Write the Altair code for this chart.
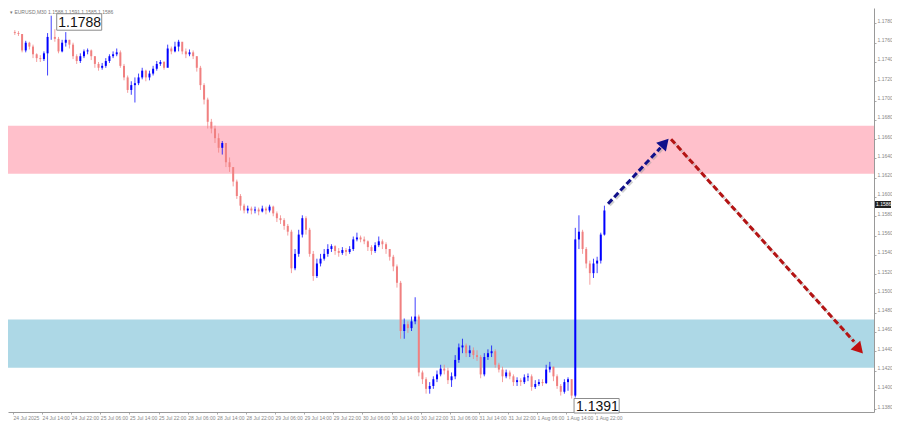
import altair as alt
import pandas as pd

# ---------------- data (EURUSD, hourly candles) ----------------
first_open = 1.1771
close = [1.1770, 1.1769, 1.1752, 1.1760, 1.1756, 1.1748, 1.1744, 1.1743, 1.1749, 1.1766,
         1.1766, 1.1764, 1.1751, 1.1760, 1.1763, 1.1758, 1.1746, 1.1741, 1.1746, 1.1751,
         1.1752, 1.1746, 1.1738, 1.1734, 1.1736, 1.1741, 1.1746, 1.1748, 1.1750, 1.1736,
         1.1724, 1.1711, 1.1716, 1.1718, 1.1724, 1.1731, 1.1724, 1.1728, 1.1733, 1.1738,
         1.1740, 1.1734, 1.1754, 1.1751, 1.1756, 1.1761, 1.1751, 1.1748, 1.1750, 1.1746,
         1.1734, 1.1716, 1.1701, 1.1678, 1.1671, 1.1661, 1.1651, 1.1656, 1.1636, 1.1631,
         1.1616, 1.1601, 1.1591, 1.1586, 1.1588, 1.1586, 1.1587, 1.1585, 1.1588, 1.1586,
         1.1590, 1.1583, 1.1578, 1.1576, 1.1570, 1.1564, 1.1526, 1.1541, 1.1561, 1.1578,
         1.1566, 1.1541, 1.1518, 1.1531, 1.1536, 1.1541, 1.1546, 1.1549, 1.1544, 1.1542,
         1.1545, 1.1543, 1.1546, 1.1556, 1.1558, 1.1556, 1.1554, 1.1548, 1.1544, 1.1550,
         1.1554, 1.1551, 1.1546, 1.1538, 1.1528, 1.1511, 1.1461, 1.1468, 1.1464, 1.1471,
         1.1476, 1.1418, 1.1411, 1.1401, 1.1404, 1.1411, 1.1416, 1.1422, 1.1420, 1.1410,
         1.1414, 1.1431, 1.1444, 1.1446, 1.1438, 1.1441, 1.1436, 1.1434, 1.1416, 1.1434,
         1.1438, 1.1440, 1.1426, 1.1421, 1.1414, 1.1418, 1.1414, 1.1408, 1.1410, 1.1408,
         1.1413, 1.1414, 1.1403, 1.1406, 1.1408, 1.1407, 1.1421, 1.1424, 1.1414, 1.1404,
         1.1398, 1.1408, 1.1411, 1.1394, 1.1556, 1.1564, 1.1546, 1.1531, 1.1521, 1.1531,
         1.1534, 1.1561, 1.1586]
high = [1.1773, 1.1772, 1.1769, 1.1762, 1.1761, 1.1758, 1.1749, 1.1747, 1.1751, 1.1770,
        1.1788, 1.1774, 1.1766, 1.1763, 1.1771, 1.1763, 1.1760, 1.1748, 1.1749, 1.1753,
        1.1754, 1.1753, 1.1746, 1.1740, 1.1739, 1.1744, 1.1748, 1.1751, 1.1754, 1.1752,
        1.1738, 1.1726, 1.1720, 1.1724, 1.1728, 1.1734, 1.1732, 1.1731, 1.1736, 1.1741,
        1.1742, 1.1741, 1.1758, 1.1756, 1.1761, 1.1763, 1.1758, 1.1754, 1.1753, 1.1752,
        1.1746, 1.1736, 1.1718, 1.1703, 1.1681, 1.1674, 1.1666, 1.1658, 1.1656, 1.1641,
        1.1631, 1.1618, 1.1603, 1.1593, 1.1591, 1.1590, 1.1590, 1.1589, 1.1591, 1.1590,
        1.1592, 1.1591, 1.1585, 1.1581, 1.1578, 1.1572, 1.1566, 1.1546, 1.1566, 1.1581,
        1.1580, 1.1568, 1.1544, 1.1536, 1.1541, 1.1546, 1.1551, 1.1551, 1.1550, 1.1547,
        1.1548, 1.1547, 1.1549, 1.1559, 1.1563, 1.1560, 1.1559, 1.1555, 1.1550, 1.1553,
        1.1559, 1.1556, 1.1553, 1.1546, 1.1540, 1.1530, 1.1513, 1.1474, 1.1471, 1.1476,
        1.1496, 1.1478, 1.1420, 1.1413, 1.1408, 1.1414, 1.1420, 1.1426, 1.1426, 1.1423,
        1.1418, 1.1436, 1.1448, 1.1453, 1.1448, 1.1446, 1.1444, 1.1441, 1.1436, 1.1438,
        1.1442, 1.1446, 1.1442, 1.1428, 1.1424, 1.1421, 1.1420, 1.1416, 1.1413, 1.1412,
        1.1416, 1.1417, 1.1416, 1.1410, 1.1411, 1.1411, 1.1426, 1.1429, 1.1424, 1.1416,
        1.1406, 1.1411, 1.1413, 1.1411, 1.1568, 1.1581, 1.1566, 1.1548, 1.1534, 1.1536,
        1.1538, 1.1563, 1.1591]
low = [1.1768, 1.1767, 1.1750, 1.1750, 1.1753, 1.1744, 1.1740, 1.1740, 1.1741, 1.1726,
       1.1763, 1.1761, 1.1749, 1.1750, 1.1756, 1.1754, 1.1743, 1.1738, 1.1739, 1.1744,
       1.1748, 1.1742, 1.1734, 1.1731, 1.1732, 1.1734, 1.1739, 1.1744, 1.1746, 1.1734,
       1.1721, 1.1708, 1.1706, 1.1698, 1.1716, 1.1722, 1.1720, 1.1721, 1.1726, 1.1731,
       1.1736, 1.1732, 1.1749, 1.1748, 1.1750, 1.1751, 1.1748, 1.1744, 1.1746, 1.1743,
       1.1730, 1.1711, 1.1696, 1.1671, 1.1666, 1.1656, 1.1646, 1.1644, 1.1631, 1.1626,
       1.1611, 1.1598, 1.1586, 1.1583, 1.1583, 1.1582, 1.1583, 1.1581, 1.1584, 1.1582,
       1.1584, 1.1580, 1.1574, 1.1572, 1.1566, 1.1560, 1.1521, 1.1524, 1.1538, 1.1558,
       1.1561, 1.1538, 1.1513, 1.1516, 1.1528, 1.1534, 1.1538, 1.1543, 1.1540, 1.1538,
       1.1540, 1.1539, 1.1541, 1.1544, 1.1554, 1.1553, 1.1551, 1.1544, 1.1540, 1.1542,
       1.1548, 1.1546, 1.1541, 1.1534, 1.1523, 1.1506, 1.1453, 1.1453, 1.1459, 1.1461,
       1.1468, 1.1414, 1.1406, 1.1396, 1.1396, 1.1401, 1.1408, 1.1414, 1.1416, 1.1406,
       1.1403, 1.1411, 1.1428, 1.1438, 1.1434, 1.1434, 1.1432, 1.1430, 1.1412, 1.1414,
       1.1431, 1.1434, 1.1423, 1.1418, 1.1408, 1.1412, 1.1411, 1.1404, 1.1404, 1.1404,
       1.1406, 1.1409, 1.1399, 1.1401, 1.1404, 1.1404, 1.1406, 1.1418, 1.1409, 1.1401,
       1.1394, 1.1396, 1.1399, 1.1391, 1.1392, 1.1546, 1.1541, 1.1526, 1.1509, 1.1516,
       1.1521, 1.1531, 1.1560]

# resistance (pink) and support (blue) zones
zone_names = ["resistance", "support"]
zone_top = [1.1674, 1.1473]
zone_bottom = [1.1624, 1.1423]
zone_colors = ["#ffc0cb", "#add8e6"]

# forecast arrows (hour index, price)
up_t = [163.0, 177.4]
up_p = [1.1593, 1.1651]
up_head_t = [178.6]
up_head_p = [1.1656]
down_t = [180.3, 230.6]
down_p = [1.1660, 1.1450]
down_head_t = [232.0]
down_head_p = [1.1442]

# marked extremes
ext_t = [10, 153]
ext_p = [1.1788, 1.1391]
ext_text = ["1.1788", "1.1391"]

price_ticks = [1.1380, 1.1400, 1.1420, 1.1440, 1.1460, 1.1480, 1.1500, 1.1520, 1.1540,
               1.1560, 1.1580, 1.1600, 1.1620, 1.1640, 1.1660, 1.1680, 1.1700, 1.1720,
               1.1740, 1.1760, 1.1780]
time_ticks = [-0.5, 7.5, 15.5, 23.5, 31.5, 39.5, 47.5, 55.5, 63.5, 71.5, 79.5, 87.5, 95.5,
              103.5, 111.5, 119.5, 127.5, 135.5, 143.5, 151.5, 159.5]
time_labels = ["24 Jul 2025", "24 Jul 14:00", "24 Jul 22:00", "25 Jul 06:00", "25 Jul 14:00",
               "25 Jul 22:00", "28 Jul 06:00", "28 Jul 14:00", "28 Jul 22:00", "29 Jul 06:00",
               "29 Jul 14:00", "29 Jul 22:00", "30 Jul 06:00", "30 Jul 14:00", "30 Jul 22:00",
               "31 Jul 06:00", "31 Jul 14:00", "31 Jul 22:00", "1 Aug 06:00", "1 Aug 14:00",
               "1 Aug 22:00"]

W, H = 866, 404

# ---------------- tables ----------------
opens = [first_open] + close[:-1]
candles = pd.DataFrame({
    "t": list(range(len(close))),
    "open": opens, "high": high, "low": low, "close": close,
})
candles["dir"] = ["up" if c >= o else "down" for o, c in zip(opens, close)]

zones = pd.DataFrame({"name": zone_names, "top": zone_top, "bottom": zone_bottom,
                      "color": zone_colors})
up_df = pd.DataFrame({"t": up_t, "p": up_p})
down_df = pd.DataFrame({"t": down_t, "p": down_p})
up_head = pd.DataFrame({"t": up_head_t, "p": up_head_p})
down_head = pd.DataFrame({"t": down_head_t, "p": down_head_p})
ext = pd.DataFrame({"t": ext_t, "p": ext_p, "label": ext_text})
last = pd.DataFrame({"p": [close[-1]], "label": [f"{close[-1]:.4f}"]})

x_scale = alt.Scale(domain=[-0.5, 234.7], nice=False, zero=False)
y_scale = alt.Scale(domain=[1.1377, 1.1796], nice=False, zero=False)

label_js = "[" + ",".join(f"'{s}'" for s in time_labels) + "]"
x_axis = alt.Axis(values=time_ticks, labelExpr=f"{label_js}[round((datum.value+0.5)/8)]",
                  title=None, grid=False, labelAlign="left", labelFontSize=5,
                  labelColor="#888", tickSize=2, tickColor="#aaa", domainColor="#999",
                  labelPadding=1, labelOverlap=False, labelBound=False, labelFlush=False)
y_axis = alt.Axis(orient="right", values=price_ticks, format=".4f", title=None, grid=False,
                  labelFontSize=5, labelColor="#888", tickSize=2, tickColor="#aaa",
                  domainColor="#999", labelPadding=1, labelBaseline="bottom",
                  labelOverlap=False, labelBound=False, labelFlush=False)

X = lambda f="t": alt.X(f + ":Q", scale=x_scale, axis=x_axis)
Y = lambda f: alt.Y(f + ":Q", scale=y_scale, axis=y_axis)

zone_layer = alt.Chart(zones).mark_rect().encode(
    x=alt.value(0), x2=alt.value(W),
    y=Y("top"), y2="bottom:Q",
    color=alt.Color("color:N", scale=None),
)

col = alt.Color("dir:N", scale=alt.Scale(domain=["up", "down"], range=["#0000ff", "#f08080"]),
                legend=None)
wicks = alt.Chart(candles).mark_rule(strokeWidth=1, opacity=0.75).encode(
    x=X(), y=Y("low"), y2="high:Q", color=col)
bodies = alt.Chart(candles).mark_bar(width=2).encode(
    x=X(), y=Y("open"), y2="close:Q", color=col)

up_shadow = alt.Chart(up_df).mark_line(color="#999", strokeWidth=3, strokeDash=[6, 3],
                                       opacity=0.45, xOffset=1.5, yOffset=1.5).encode(
    x=X(), y=Y("p"))
down_shadow = alt.Chart(down_df).mark_line(color="#999", strokeWidth=3, strokeDash=[6, 3],
                                           opacity=0.45, xOffset=1.5, yOffset=1.5).encode(
    x=X(), y=Y("p"))
up_line = alt.Chart(up_df).mark_line(color="#10108a", strokeWidth=3, strokeDash=[6, 3]).encode(
    x=X(), y=Y("p"))
down_line = alt.Chart(down_df).mark_line(color="#b41414", strokeWidth=3, strokeDash=[6, 3]).encode(
    x=X(), y=Y("p"))
up_arrow = alt.Chart(up_head).mark_point(shape="triangle-up", size=170, filled=True, opacity=1,
                                         color="#10108a", angle=42).encode(x=X(), y=Y("p"))
down_arrow = alt.Chart(down_head).mark_point(shape="triangle-up", size=170, filled=True, opacity=1,
                                             color="#c01010", angle=138).encode(x=X(), y=Y("p"))

title_txt = alt.Chart(pd.DataFrame({"s": ["\u25be EURUSD,M30  1.1588 1.1591 1.1585 1.1586"]})).mark_text(
    align="left", baseline="middle", fontSize=5, color="#777").encode(
    x=alt.value(2), y=alt.value(4), text="s:N")

hi = ext[ext.label == "1.1788"]
lo = ext[ext.label == "1.1391"]
hi_box = alt.Chart(hi).mark_rect(fill="white", stroke="#8c8c8c", strokeWidth=1,
                                 xOffset=5.5, x2Offset=50.5, yOffset=-2, y2Offset=14.5).encode(
    x=X(), x2="t:Q", y=Y("p"), y2="p:Q")
hi_text = alt.Chart(hi).mark_text(align="left", baseline="alphabetic", dx=7, dy=11,
                                  fontSize=14, font="Liberation Sans", color="#111").encode(
    x=X(), y=Y("p"), text="label:N")
lo_box = alt.Chart(lo).mark_rect(fill="white", stroke="#8c8c8c", strokeWidth=1,
                                 xOffset=2.4, x2Offset=47.5, yOffset=0, y2Offset=14.5).encode(
    x=X(), x2="t:Q", y=Y("p"), y2="p:Q")
lo_text = alt.Chart(lo).mark_text(align="left", baseline="alphabetic", dx=4.3, dy=12.8,
                                  fontSize=14, font="Liberation Sans", color="#111").encode(
    x=X(), y=Y("p"), text="label:N")

price_box = alt.Chart(last).mark_rect(color="#222", yOffset=-9.5, y2Offset=-2.5).encode(
    x=alt.value(W + 1), x2=alt.value(W + 17), y=Y("p"), y2="p:Q")
price_text = alt.Chart(last).mark_text(align="left", baseline="middle", fontSize=5,
                                       color="white", dy=-6).encode(
    x=alt.value(W + 2), y=Y("p"), text="label:N")

chart = alt.layer(
    zone_layer, wicks, bodies, up_shadow, down_shadow, up_line, down_line, up_arrow, down_arrow,
    title_txt, hi_box, hi_text, lo_box, lo_text, price_box, price_text,
).properties(
    width=W, height=H,
    autosize=alt.AutoSizeParams(type="none"),
    padding={"left": 0, "top": 0, "right": 18, "bottom": 10},
    background="white",
).configure_view(strokeWidth=0)

chart.save("out.html", embed_options={"renderer": "svg", "actions": False})
